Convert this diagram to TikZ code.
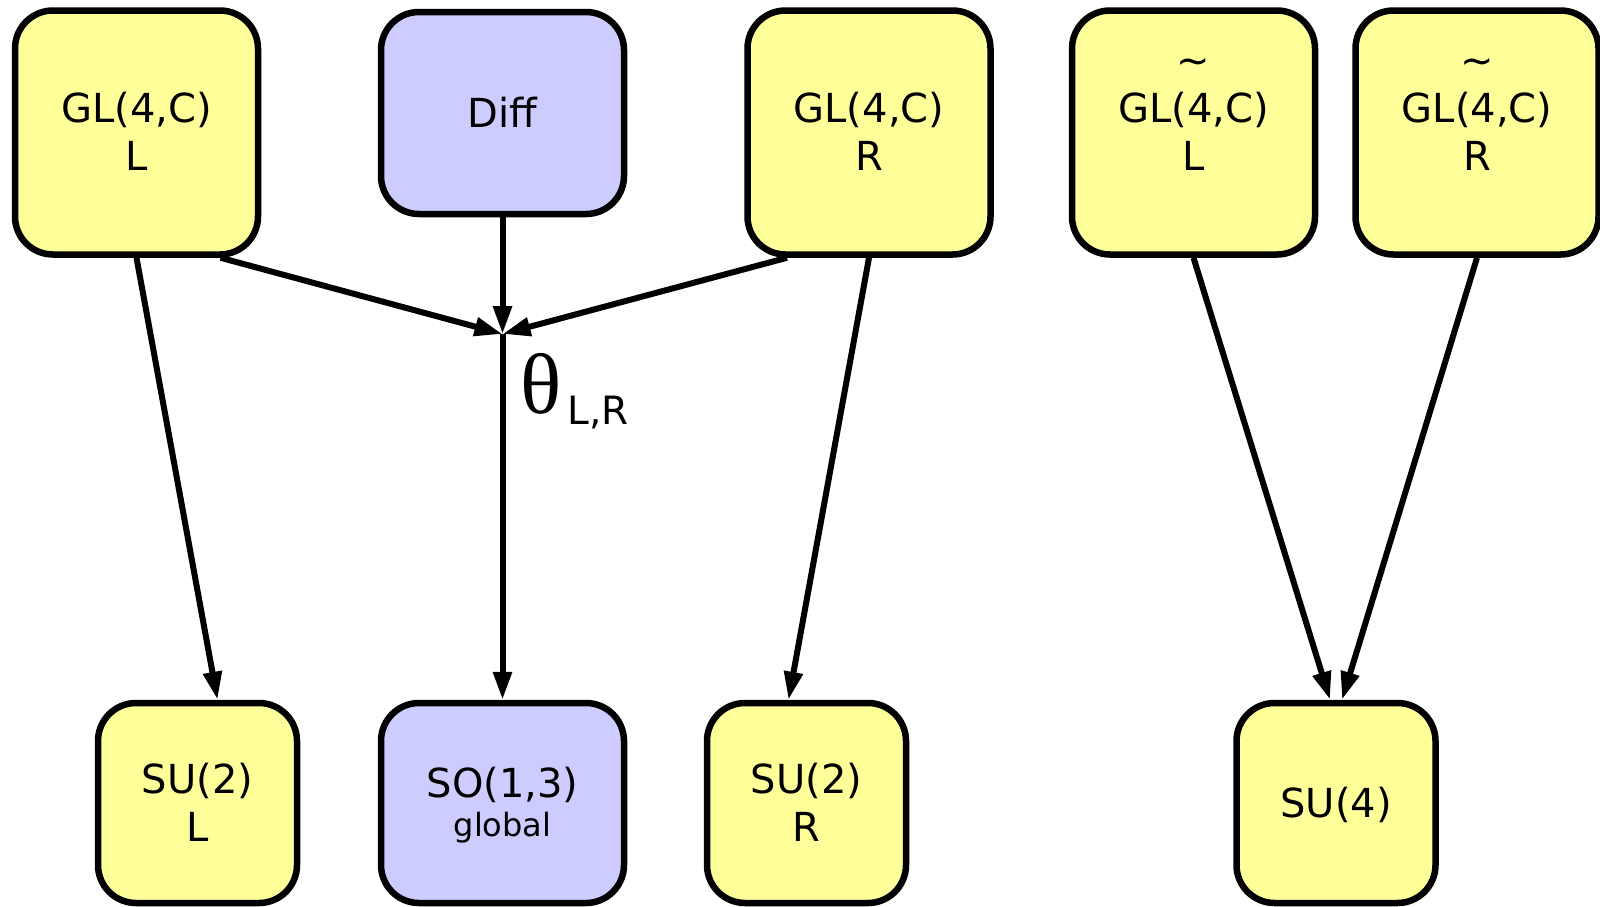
\documentclass[tikz,border=0pt]{standalone}
\usepackage{fontspec}
\setmainfont{DejaVu Sans}
\newfontfamily\thfont{Liberation Serif}
\usetikzlibrary{arrows.meta}
\definecolor{ylw}{RGB}{255,255,153}
\definecolor{lav}{RGB}{204,204,255}
\newcommand\mystr{\rule[-8pt]{0pt}{44pt}}
\begin{document}
\begin{tikzpicture}[x=1pt,y=-1pt,
  grp/.style={draw, line width=6.5pt, rounded corners=38pt, inner sep=0pt, align=center, font=\fontsize{40}{48}\selectfont},
  big/.style={grp, fill=ylw, minimum width=243pt, minimum height=244pt},
  small/.style={grp, fill=ylw, minimum width=199pt, minimum height=200pt},
  conn/.style={line width=6pt, -{Triangle[length=28pt,width=18pt]}}
]
\useasboundingbox (0,0) rectangle (1600,906);
\node[big] (gll) at (136.5,132.5) {\mystr GL(4,C)\\L\mystr};
\node[grp, fill=lav, minimum width=243pt, minimum height=202pt] (diff) at (502.5,113) {\mystr Diff};
\node[big] (glr) at (869,132.5) {\mystr GL(4,C)\\R\mystr};
\node[big] (gtl) at (1193.5,132.5) {\mystr\textasciitilde\\GL(4,C)\\L\\\mystr};
\node[big] (gtr) at (1477,132.5) {\mystr\textasciitilde\\GL(4,C)\\R\\\mystr};
\node[small] (sul) at (197.5,803) {\mystr SU(2)\\L\mystr};
\node[grp, fill=lav, minimum width=243pt, minimum height=200pt] (so) at (502.5,803) {\mystr SO(1,3)\\[-9pt]{\fontsize{32}{36}\selectfont global}\rule[-8pt]{0pt}{8pt}};
\node[small] (sur) at (806.5,803) {\mystr SU(2)\\R\mystr};
\node[small] (su4) at (1336,803) {\mystr SU(4)};
\coordinate (j) at (502.5,334);
\draw[conn] (gll.south) -- ([xshift=20pt]sul.north);
\draw[conn] ([xshift=84pt]gll.south) -- (j);
\draw[conn] (diff.south) -- (j);
\draw[conn] ([xshift=-82pt]glr.south) -- (j);
\draw[conn] (j) -- (so.north);
\draw[conn] (glr.south) -- ([xshift=-18pt]sur.north);
\draw[conn] (gtl.south) -- ([xshift=-6pt]su4.north);
\draw[conn] (gtr.south) -- ([xshift=6pt]su4.north);
\node[anchor=base west, inner sep=0pt] (th) at (520,413) {{\fontsize{86}{86}\thfont θ}\hspace{6pt}\raisebox{-11pt}{\fontsize{39}{39}\selectfont L,R}};
\end{tikzpicture}
\end{document}
